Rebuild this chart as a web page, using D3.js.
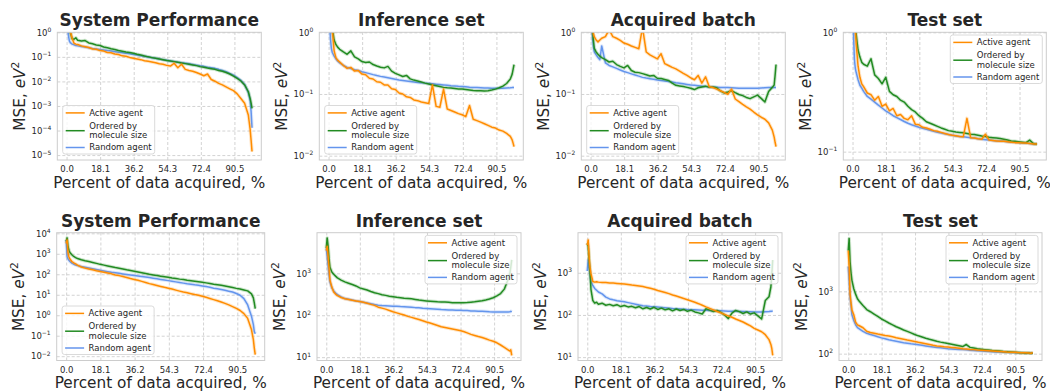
<!DOCTYPE html>
<html>
<head>
<meta charset="utf-8">
<script src="https://cdn.jsdelivr.net/npm/d3@7"></script>
<style>
  body { margin: 0; background: #fff; }
  svg { display: block; }
  text { font-family: "DejaVu Sans", sans-serif; fill: #262626; }
</style>
</head>
<body>
<div id="chart"></div>
<script>
// x positions (percent of data acquired) shared by every series
const pct = [0, 0.5, 1, 1.5, 2, 3, 4, 5, 6,
  8, 10, 12, 14, 16, 18, 20, 22, 24, 26,
  28, 30, 32, 34, 36, 38, 40, 42, 44, 46,
  48, 50, 52, 54, 56, 58, 60, 62, 64, 66,
  68, 70, 72, 74, 76, 78, 80, 82, 84, 86,
  88, 90, 92, 94, 96, 98,
  99, 99.5, 100];

const xTicks = [0, 18.1, 36.2, 54.3, 72.4, 90.5];
const seriesNames = ["Active agent", "Ordered by\nmolecule size", "Random agent"];
const seriesColors = ["#ff8c00", "#228b22", "#6495ed"];

// ---- top row ----
const sysActive = [3, 2.5, 2, 1.6, 1.1, 0.57, 0.36, 0.33, 0.32,
  0.28, 0.26, 0.24, 0.21, 0.205, 0.18, 0.172, 0.15, 0.146, 0.13,
  0.124, 0.11, 0.106, 0.095, 0.088, 0.082, 0.077, 0.07, 0.066, 0.062,
  0.058, 0.052, 0.05, 0.045, 0.042, 0.055, 0.036, 0.05, 0.031, 0.028,
  0.026, 0.023, 0.02, 0.017, 0.02, 0.012, 0.0102, 0.0083, 0.0072, 0.006,
  0.005, 0.0042, 0.0031, 0.002, 0.0013, 0.00043,
  0.00011, 0.00004, 0.000014];
const sysOrdered = [3, 2.5, 2, 1.5, 1.0, 0.55, 0.52, 0.6, 0.47,
  0.44, 0.46, 0.37, 0.34, 0.305, 0.29, 0.252, 0.235, 0.215, 0.2,
  0.18, 0.17, 0.158, 0.15, 0.139, 0.128, 0.12, 0.109, 0.1, 0.093,
  0.087, 0.082, 0.077, 0.071, 0.068, 0.064, 0.06, 0.056, 0.053, 0.05,
  0.047, 0.044, 0.04, 0.038, 0.035, 0.033, 0.031, 0.028, 0.026, 0.023,
  0.02, 0.0165, 0.0133, 0.0104, 0.0072, 0.0038,
  0.002, 0.0013, 0.0008];
const sysRandom = [3, 1.6, 0.75, 0.45, 0.38, 0.33, 0.31, 0.29, 0.28,
  0.265, 0.25, 0.235, 0.22, 0.21, 0.2, 0.19, 0.18, 0.172, 0.163,
  0.155, 0.147, 0.14, 0.133, 0.126, 0.118, 0.112, 0.105, 0.098, 0.092,
  0.087, 0.082, 0.077, 0.072, 0.068, 0.065, 0.061, 0.058, 0.055, 0.052,
  0.049, 0.046, 0.043, 0.041, 0.038, 0.036, 0.034, 0.031, 0.028, 0.025,
  0.021, 0.018, 0.0142, 0.011, 0.0075, 0.0036,
  0.0017, 0.0006, 0.00013];

const infActive = [4, 3, 2.2, 1.6, 1.1, 0.5, 0.385, 0.35, 0.33,
  0.29, 0.26, 0.27, 0.235, 0.24, 0.21, 0.205, 0.18, 0.175, 0.158,
  0.155, 0.14, 0.14, 0.122, 0.118, 0.104, 0.1, 0.09, 0.088, 0.08,
  0.078, 0.074, 0.072, 0.07, 0.14, 0.063, 0.061, 0.12, 0.057, 0.054,
  0.051, 0.048, 0.046, 0.043, 0.065, 0.039, 0.037, 0.035, 0.033, 0.031,
  0.029, 0.028, 0.026, 0.025, 0.023, 0.0205,
  0.018, 0.016, 0.014];
const infOrdered = [4, 3, 2.2, 1.6, 1.15, 0.75, 0.63, 0.57, 0.53,
  0.48, 0.44, 0.5, 0.4, 0.37, 0.335, 0.325, 0.33, 0.3, 0.285,
  0.272, 0.265, 0.28, 0.235, 0.216, 0.204, 0.192, 0.2, 0.176, 0.168,
  0.162, 0.156, 0.15, 0.145, 0.14, 0.136, 0.132, 0.128, 0.126, 0.125,
  0.123, 0.121, 0.12, 0.118, 0.116, 0.114, 0.113, 0.113, 0.112, 0.113,
  0.116, 0.12, 0.126, 0.134, 0.148, 0.175,
  0.21, 0.25, 0.3];
const infRandom = [3, 1.5, 0.8, 0.55, 0.47, 0.41, 0.37, 0.34, 0.32,
  0.29, 0.27, 0.258, 0.248, 0.24, 0.23, 0.222, 0.214, 0.206, 0.199,
  0.193, 0.188, 0.183, 0.178, 0.173, 0.169, 0.166, 0.163, 0.16, 0.157,
  0.154, 0.152, 0.15, 0.148, 0.146, 0.144, 0.142, 0.14, 0.138, 0.136,
  0.135, 0.133, 0.132, 0.131, 0.129, 0.128, 0.127, 0.126, 0.125, 0.125,
  0.124, 0.124, 0.124, 0.124, 0.125, 0.126,
  0.127, 0.128, 0.128];

const batchActive = [3, 2, 1.3, 0.95, 0.85, 0.75, 0.7, 0.75, 0.8,
  0.85, 1.1, 0.85, 0.8, 0.74, 0.67, 0.64, 0.6, 0.57, 0.54,
  1.2, 0.48, 0.43, 0.4, 0.37, 0.45, 0.31, 0.29, 0.27, 0.255,
  0.235, 0.216, 0.2, 0.183, 0.17, 0.2, 0.15, 0.19, 0.131, 0.127,
  0.12, 0.113, 0.106, 0.099, 0.12, 0.083, 0.075, 0.068, 0.062, 0.057,
  0.051, 0.046, 0.042, 0.039, 0.034, 0.026,
  0.02, 0.0165, 0.014];
const batchOrdered = [3, 2, 1.2, 0.75, 0.55, 0.48, 0.44, 0.41, 0.39,
  0.36, 0.33, 0.34, 0.3, 0.28, 0.265, 0.29, 0.24, 0.225, 0.222,
  0.214, 0.205, 0.196, 0.2, 0.18, 0.178, 0.172, 0.166, 0.15, 0.138,
  0.135, 0.132, 0.128, 0.124, 0.118, 0.126, 0.13, 0.134, 0.128, 0.13,
  0.126, 0.112, 0.104, 0.108, 0.113, 0.105, 0.098, 0.094, 0.088, 0.084,
  0.09, 0.096, 0.085, 0.074, 0.11, 0.128,
  0.14, 0.2, 0.3];
const batchRandom = [3, 1.5, 0.9, 0.6, 0.48, 0.43, 0.39, 0.36, 0.6,
  0.32, 0.29, 0.275, 0.26, 0.245, 0.232, 0.222, 0.212, 0.203, 0.195,
  0.186, 0.181, 0.177, 0.173, 0.169, 0.165, 0.162, 0.159, 0.156, 0.152,
  0.149, 0.146, 0.143, 0.14, 0.138, 0.136, 0.134, 0.132, 0.131, 0.13,
  0.129, 0.128, 0.128, 0.127, 0.126, 0.125, 0.124, 0.124, 0.124, 0.124,
  0.124, 0.124, 0.125, 0.126, 0.127, 0.128,
  0.128, 0.128, 0.128];

const testActive = [3, 2, 1.4, 1.05, 0.8, 0.52, 0.42, 0.37, 0.35,
  0.31, 0.3, 0.27, 0.29, 0.24, 0.25, 0.22, 0.23, 0.2, 0.205,
  0.19, 0.185, 0.2, 0.17, 0.168, 0.16, 0.158, 0.154, 0.15, 0.148,
  0.145, 0.142, 0.139, 0.137, 0.136, 0.134, 0.133, 0.19, 0.131, 0.13,
  0.128, 0.127, 0.14, 0.125, 0.124, 0.123, 0.122, 0.122, 0.121, 0.12,
  0.119, 0.119, 0.118, 0.118, 0.117, 0.116,
  0.116, 0.116, 0.116];
const testOrdered = [3, 2.2, 1.6, 1.2, 0.95, 0.71, 0.62, 0.56, 0.54,
  0.52, 0.6, 0.44, 0.41, 0.37, 0.42, 0.32, 0.3, 0.29, 0.27,
  0.26, 0.24, 0.225, 0.215, 0.2, 0.19, 0.178, 0.173, 0.168, 0.163,
  0.158, 0.154, 0.15, 0.148, 0.146, 0.145, 0.144, 0.142, 0.14, 0.139,
  0.137, 0.135, 0.134, 0.132, 0.131, 0.13, 0.129, 0.127, 0.125, 0.123,
  0.122, 0.121, 0.12, 0.119, 0.125, 0.117,
  0.116, 0.116, 0.116];
const testRandom = [2, 1.0, 0.6, 0.5, 0.46, 0.4, 0.36, 0.34, 0.32,
  0.29, 0.275, 0.26, 0.245, 0.232, 0.22, 0.21, 0.2, 0.193, 0.186,
  0.179, 0.173, 0.168, 0.164, 0.16, 0.157, 0.154, 0.151, 0.148, 0.145,
  0.143, 0.141, 0.139, 0.137, 0.135, 0.134, 0.133, 0.132, 0.131, 0.13,
  0.128, 0.127, 0.126, 0.125, 0.124, 0.123, 0.123, 0.122, 0.121, 0.12,
  0.12, 0.119, 0.118, 0.118, 0.117, 0.116,
  0.116, 0.116, 0.116];

// ---- bottom row ----
const sysActive2 = [3200, 4700, 1100, 700, 560, 420, 360, 320, 280,
  225, 200, 180, 165, 150, 138, 127, 116, 105, 92,
  86, 78, 70, 62, 56, 51, 45, 40, 35, 31.5,
  28.5, 25.5, 23, 21, 19, 16.8, 15, 13.5, 12.5, 11.3,
  10.3, 9.5, 8.5, 7.5, 6.6, 5.8, 5.1, 4.4, 3.8, 3.2,
  2.65, 2.15, 1.7, 1.2, 0.7, 0.2,
  0.065, 0.025, 0.012];
const sysOrdered2 = [4000, 6000, 2200, 1500, 1150, 900, 740, 650, 590,
  510, 460, 420, 380, 340, 305, 280, 255, 232, 212,
  196, 180, 165, 153, 142, 130, 120, 110, 100, 93,
  87, 81, 76, 71, 66, 62, 58, 55, 51, 48,
  45.5, 43, 40.5, 38, 35.5, 33, 31, 29, 26.8, 24.5,
  22.5, 20.5, 19, 17.2, 15.5, 11,
  7, 4, 2.1];
const sysRandom2 = [4700, 720, 560, 480, 420, 350, 310, 285, 265,
  238, 220, 203, 188, 172, 157, 145, 134, 125, 118,
  111, 104, 98, 93, 88, 83, 78.5, 74, 69, 64.5,
  60, 56, 52.5, 49, 46, 42.5, 39.5, 37, 34.5, 32.5,
  30.5, 29, 27, 25, 23, 21, 19.5, 18, 16.5, 15,
  13.6, 11.5, 9.5, 6.5, 3.2, 0.9,
  0.35, 0.16, 0.125];

const infActive2 = [3500, 4400, 2500, 1300, 690, 470, 360, 320, 295,
  265, 248, 238, 228, 220, 212, 204, 194, 182, 172,
  156, 148, 140, 130, 121, 114, 107, 101, 94, 89,
  84, 79, 74, 69, 65, 61, 57, 53, 51, 49,
  47, 45, 43, 41, 38, 35, 33, 31, 29.5, 27.5,
  25.5, 24, 22, 19.5, 17.2, 15,
  14, 15, 11];
const infOrdered2 = [4000, 7000, 4500, 2200, 1400, 1080, 950, 860, 780,
  690, 625, 580, 540, 500, 450, 425, 400, 370, 345,
  328, 310, 298, 285, 276, 268, 262, 256, 252, 246,
  238, 230, 225, 220, 216, 213, 210, 208, 206, 203,
  200, 198, 198, 200, 202, 205, 209, 215, 222, 232,
  245, 262, 290, 330, 420, 700,
  1000, 1400, 2100];
const infRandom2 = [4000, 2500, 1500, 900, 620, 450, 380, 340, 310,
  275, 250, 240, 230, 220, 212, 205, 196, 188, 180,
  174, 171, 169, 167, 165, 163, 161, 160, 158, 155,
  152, 150, 147, 145, 143, 141, 139, 137, 136, 134,
  133, 132, 131, 130, 129, 127, 126, 125, 124, 123,
  121, 120, 120, 119, 119, 120,
  121, 124, 120];

const batchActive2 = [4500, 6000, 2400, 1300, 950, 620, 600, 610, 600,
  590, 585, 575, 570, 560, 550, 540, 525, 510, 500,
  485, 470, 450, 430, 405, 380, 360, 340, 320, 298,
  280, 262, 246, 230, 215, 200, 185, 170, 155, 143,
  132, 121, 112, 103, 95, 88, 80, 74, 68, 61,
  55, 48, 44, 40, 34, 26,
  20, 16, 11];
const batchOrdered2 = [5000, 4200, 2000, 1000, 400, 220, 190, 200, 180,
  190, 170, 178, 165, 175, 158, 168, 155, 160, 148,
  158, 140, 150, 138, 152, 135, 145, 132, 140, 125,
  138, 128, 135, 122, 130, 118, 112, 105, 140, 130,
  120, 128, 115, 100, 82, 110, 128, 120, 108, 118,
  105, 112, 95, 80, 220, 270,
  460, 900, 2000];
const batchRandom2 = [1100, 2000, 1300, 900, 620, 500, 425, 385, 350,
  315, 265, 240, 228, 218, 210, 205, 196, 188, 180,
  172, 166, 162, 158, 156, 154, 151, 148, 145, 142,
  140, 138, 136, 134, 133, 132, 131, 130, 129, 128,
  127, 126, 125, 124, 123, 123, 122, 121, 120, 119,
  119, 118, 118, 118, 119, 120,
  122, 123, 122];

const testActive2 = [4500, 2500, 900, 650, 500, 420, 320, 290, 280,
  260, 228, 218, 212, 206, 201, 196, 192, 186, 180,
  175, 170, 165, 161, 157, 152, 148, 144, 140, 136,
  133, 131, 129, 128, 126, 124, 122, 120, 119, 117,
  116, 114, 113, 112, 111, 110, 109, 108, 107, 106,
  105.5, 105, 104, 103.5, 103, 102,
  101, 103, 102];
const testOrdered2 = [4500, 7000, 3000, 2000, 1500, 1100, 900, 760, 690,
  590, 510, 470, 430, 395, 360, 335, 310, 290, 270,
  255, 240, 228, 215, 203, 193, 185, 177, 170, 164,
  158, 153, 149, 146, 142, 138, 134, 130, 140, 126,
  123, 120, 118, 116, 114, 112, 111, 110, 108, 107,
  106, 105, 104, 103, 102, 102,
  101, 101, 101];
const testRandom2 = [2500, 1500, 800, 600, 420, 340, 290, 262, 250,
  228, 212, 203, 195, 187, 179, 173, 167, 162, 158,
  154, 150, 147, 144, 142, 139, 136, 133, 130, 128,
  126, 124, 122, 120, 119, 118, 117, 116, 115, 113,
  112, 111, 110, 109, 108, 107, 106, 106, 105, 105,
  104, 104, 103, 103, 102, 102,
  101, 101, 101];

const rows = [{ top: 32.3, bottom: 160 }, { top: 232.7, bottom: 360.5 }];

const panels = [
  { title: "System Performance", row: 0, left: 57.3, width: 204, yExp: [-5.2, 0], ticks: [-5, -4, -3, -2, -1, 0], legend: "ll", data: [sysActive, sysOrdered, sysRandom] },
  { title: "Inference set", row: 0, left: 319.3, width: 204, yExp: [-2.07, 0], ticks: [-2, -1, 0], legend: "ll", data: [infActive, infOrdered, infRandom] },
  { title: "Acquired batch", row: 0, left: 581.3, width: 204, yExp: [-2.07, 0], ticks: [-2, -1, 0], legend: "ll", data: [batchActive, batchOrdered, batchRandom] },
  { title: "Test set", row: 0, left: 843.3, width: 203, yExp: [-1.07, 0], ticks: [-1, 0], legend: "ur", data: [testActive, testOrdered, testRandom] },
  { title: "System Performance", row: 1, left: 56.7, width: 208, yExp: [-2.21, 4.03], ticks: [-2, -1, 0, 1, 2, 3, 4], legend: "ll", data: [sysActive2, sysOrdered2, sysRandom2] },
  { title: "Inference set", row: 1, left: 317, width: 204, yExp: [0.92, 3.97], ticks: [1, 2, 3], legend: "ur", data: [infActive2, infOrdered2, infRandom2] },
  { title: "Acquired batch", row: 1, left: 578, width: 204, yExp: [0.92, 3.95], ticks: [1, 2, 3], legend: "ur", data: [batchActive2, batchOrdered2, batchRandom2] },
  { title: "Test set", row: 1, left: 839, width: 203, yExp: [1.89, 3.94], ticks: [2, 3], legend: "ur", data: [testActive2, testOrdered2, testRandom2] },
];

const svg = d3.select("#chart").append("svg").attr("width", 1050).attr("height", 392);

const fmtExp = (e) => (e < 0 ? "\u2212" + Math.abs(e) : String(e));

panels.forEach((p, i) => {
  const r = rows[p.row];
  const h = r.bottom - r.top;
  const x = d3.scaleLinear().domain([-5, 105]).range([p.left, p.left + p.width]);
  const y = d3.scaleLog().domain([10 ** p.yExp[0], 10 ** p.yExp[1]]).range([r.bottom, r.top]);
  const g = svg.append("g");

  // dashed grid
  g.append("g")
    .attr("transform", `translate(0,${r.bottom})`)
    .call(d3.axisBottom(x).tickValues(xTicks).tickSize(-h).tickFormat(""))
    .call((a) => a.select(".domain").remove())
    .selectAll("line").attr("stroke", "#c8c8c8").attr("stroke-width", 0.8).attr("stroke-dasharray", "3,2");
  g.append("g")
    .attr("transform", `translate(${p.left},0)`)
    .call(d3.axisLeft(y).tickValues(p.ticks.map((e) => 10 ** e)).tickSize(-p.width).tickFormat(""))
    .call((a) => a.select(".domain").remove())
    .selectAll("line").attr("stroke", "#c8c8c8").attr("stroke-width", 0.8).attr("stroke-dasharray", "3,2");

  // lines, clipped to the axes box
  svg.append("clipPath").attr("id", "clip" + i)
    .append("rect").attr("x", p.left).attr("y", r.top).attr("width", p.width).attr("height", h);
  const plot = g.append("g").attr("clip-path", `url(#clip${i})`);
  const line = d3.line().x((d) => x(d[0])).y((d) => y(d[1]));

  [2, 1, 0].forEach((k) => {
    const pts = pct.map((v, j) => [v, p.data[k][j]]);
    plot.append("path").attr("d", line(pts)).attr("fill", "none")
      .attr("stroke", seriesColors[k]).attr("stroke-width", 3.5).attr("stroke-opacity", 0.22)
      .attr("stroke-linejoin", "round");
    plot.append("path").attr("d", line(pts)).attr("fill", "none")
      .attr("stroke", seriesColors[k]).attr("stroke-width", 1.5).attr("stroke-linejoin", "round");
  });

  // frame
  g.append("rect").attr("x", p.left).attr("y", r.top).attr("width", p.width).attr("height", h)
    .attr("fill", "none").attr("stroke", "#cccccc").attr("stroke-width", 1);

  // x tick labels
  g.append("g")
    .attr("transform", `translate(0,${r.bottom})`)
    .call(d3.axisBottom(x).tickValues(xTicks).tickSize(0).tickPadding(6.3).tickFormat(d3.format(".1f")))
    .call((a) => a.select(".domain").remove())
    .selectAll("text").attr("font-size", 8.5).attr("fill", "#333");

  // y tick labels 10^n
  const ya = g.append("g")
    .attr("transform", `translate(${p.left},0)`)
    .call(d3.axisLeft(y).tickValues(p.ticks.map((e) => 10 ** e)).tickSize(0).tickPadding(6).tickFormat(""));
  ya.select(".domain").remove();
  ya.selectAll("text").attr("font-size", 8.5).attr("fill", "#333").each(function (d) {
    const t = d3.select(this);
    t.text(null);
    t.append("tspan").text("10");
    t.append("tspan").attr("font-size", 6).attr("dy", -3.6).text(fmtExp(Math.round(Math.log10(d))));
  });

  const cx = p.left + p.width / 2;
  g.append("text").attr("x", cx).attr("y", r.top - 6).attr("text-anchor", "middle")
    .attr("font-size", 17).attr("font-weight", "bold").text(p.title);
  g.append("text").attr("x", cx).attr("y", r.bottom + 27.5).attr("text-anchor", "middle")
    .attr("font-size", 15.3).text("Percent of data acquired, %");

  const yl = g.append("text")
    .attr("transform", `translate(${p.left - 32.5},${(r.top + r.bottom) / 2}) rotate(-90)`)
    .attr("text-anchor", "middle").attr("font-size", 15.3);
  yl.append("tspan").text("MSE, ");
  yl.append("tspan").attr("font-style", "italic").text("eV");
  yl.append("tspan").attr("font-size", 10.7).attr("dy", -6).text("2");

  // legend
  const lw = 92, lh = 48.5;
  const lx = p.legend === "ll" ? p.left + 5.4 : p.left + p.width - 4 - lw;
  const ly = p.legend === "ll" ? r.bottom - 6 - lh : r.top + 2.7;
  const lg = g.append("g").attr("transform", `translate(${lx},${ly})`);
  lg.append("rect").attr("width", lw).attr("height", lh).attr("rx", 2.5)
    .attr("fill", "#fff").attr("fill-opacity", 0.8).attr("stroke", "#d0d0d0").attr("stroke-width", 0.8);
  const handleY = [7.4, 25.2, 42];
  const textY = [[7.4], [20.4, 29.8], [42]];
  seriesNames.forEach((name, k) => {
    lg.append("line").attr("x1", 3).attr("x2", 22).attr("y1", handleY[k]).attr("y2", handleY[k])
      .attr("stroke", seriesColors[k]).attr("stroke-width", 1.5);
    name.split("\n").forEach((s, m) => {
      lg.append("text").attr("x", 26.5).attr("y", textY[k][m]).attr("dy", "0.35em")
        .attr("font-size", 8.5).text(s);
    });
  });
});
</script>
</body>
</html>
